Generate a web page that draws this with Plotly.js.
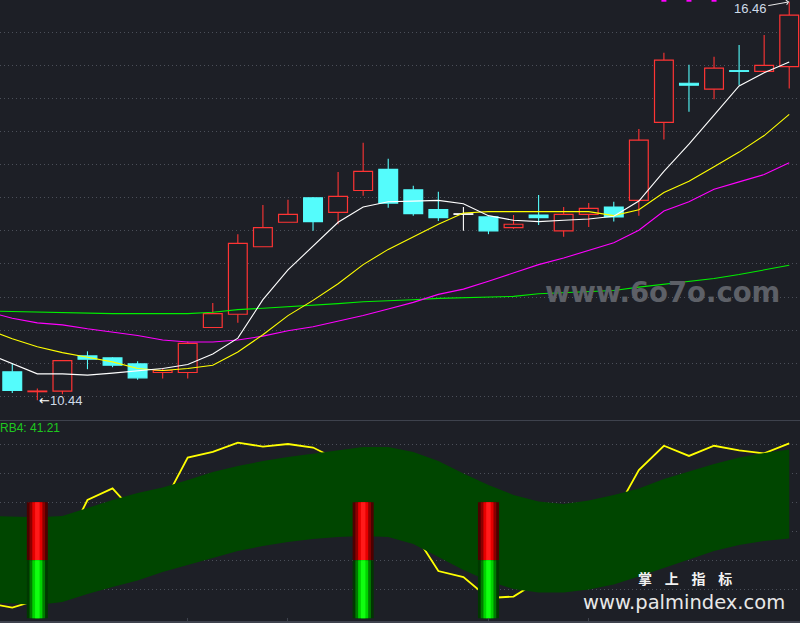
<!DOCTYPE html>
<html><head><meta charset="utf-8">
<script src="https://cdn.plot.ly/plotly-3.0.1.min.js"></script>
<style>html,body{margin:0;padding:0;background:#1d1f26;}#chart{width:800px;height:623px;}</style>
</head><body><div id="chart"></div>
<script>
// ---------- data ----------
const days   = [0,1,2,3,4,5,6,7,8,9,10,11,12,13,14,15,16,17,18,19,20,21,22,23,24,25,26,27,28,29,30,31];
const open   = [10.87,10.57,10.58,11.11,11.08,10.99,10.86,10.86,11.54,11.74,12.76,13.13,13.50,13.28,13.61,13.93,13.62,13.32,13.25,13.21,13.05,13.24,13.00,13.25,13.36,13.46,14.64,15.23,15.14,15.42,15.41,15.48];
const high   = [11.00,10.62,11.05,11.18,11.09,11.03,10.92,11.33,11.91,12.95,13.39,13.47,13.51,13.89,14.33,14.09,13.68,13.59,13.36,13.22,13.24,13.54,13.36,13.42,13.44,14.54,15.69,15.51,15.63,15.81,15.96,16.46];
const low    = [10.55,10.44,10.53,10.91,10.94,10.75,10.77,10.77,11.54,11.61,12.76,13.13,13.00,13.10,13.53,13.35,13.23,13.15,13.00,12.95,13.03,13.09,12.91,13.06,13.14,13.23,14.38,14.80,14.99,15.20,15.41,15.15];
const close  = [10.59,10.58,11.04,11.06,10.97,10.78,10.89,11.30,11.75,12.81,13.05,13.25,13.14,13.52,13.90,13.42,13.26,13.20,13.25,13.00,13.10,13.20,13.25,13.34,13.21,14.37,15.58,15.20,15.46,15.41,15.50,16.26];

// indicator lines start one day before the first visible candle
const lineDays = [-1,0,1,2,3,4,5,6,7,8,9,10,11,12,13,14,15,16,17,18,19,20,21,22,23,24,25,26,27,28,29,30,31];
const ma5  = [11.15,11.00,10.84,10.84,10.82,10.85,10.88,10.92,10.98,11.14,11.38,11.96,12.41,12.77,13.13,13.36,13.44,13.45,13.46,13.41,13.23,13.16,13.14,13.16,13.18,13.22,13.45,13.90,14.31,14.75,15.19,15.39,15.55];
const ma10 = [11.51,11.37,11.25,11.16,11.09,11.02,10.92,10.89,10.92,10.97,11.17,11.43,11.72,11.95,12.20,12.49,12.72,12.91,13.10,13.27,13.29,13.29,13.29,13.30,13.29,13.23,13.32,13.58,13.75,13.97,14.19,14.44,14.76];
const ma20 = [11.78,11.68,11.61,11.58,11.52,11.47,11.42,11.35,11.32,11.32,11.35,11.41,11.49,11.55,11.63,11.72,11.82,11.92,12.04,12.12,12.24,12.36,12.49,12.59,12.70,12.82,13.01,13.30,13.44,13.63,13.74,13.85,14.03];
const ma60 = [11.79,11.78,11.77,11.76,11.75,11.75,11.75,11.75,11.75,11.77,11.81,11.83,11.85,11.88,11.90,11.93,11.94,11.96,11.98,11.99,12.00,12.01,12.05,12.07,12.09,12.10,12.15,12.19,12.24,12.28,12.34,12.41,12.48];

const topSignalDays = [26,27,28];
const topSignalVals = [16.5,16.5,16.5];

const priceTicks = [10.5,11,11.5,12,12.5,13,13.5,14,14.5,15,15.5,16];

// lower panel
const rb4      = [-14.7,-16.3,-13.7,3.6,20.8,24.8,15.3,19.1,35.4,37.4,40.6,39.2,40.1,38.9,34.6,27.7,19.1,9.8,-3.7,-5.8,-13.0,-12.5,-7.1,0.1,7.0,15.6,31.1,39.5,36.0,39.5,37.9,36.9,40.3];
const bandUp   = [15.28,15.10,14.83,15.28,18.03,20.79,23.21,25.10,27.69,30.45,32.52,34.24,35.62,36.83,38.03,39.07,39.07,37.34,34.24,29.93,25.97,22.52,20.28,19.41,20.62,22.52,24.76,28.03,30.62,33.21,35.45,37.00,38.21];
const bandLow  = [-14.38,-14.90,-15.41,-14.38,-11.62,-9.21,-6.97,-4.03,-1.62,0.97,3.21,4.93,6.31,7.34,8.03,8.38,8.03,5.62,1.14,-3.34,-7.14,-9.90,-11.10,-11.10,-10.07,-8.34,-5.59,-2.66,0.28,3.21,5.28,6.66,7.52];
const sigDays  = [1,14,19];
const sigTop   = [20,20,20];
const sigMid   = [0,0,0];
const sigBot   = [-20,-20,-20];
const lowTicks = [-10,0,10,20,30,40];
const sepDays  = [7,11,19,23];

// ---------- styling ----------
const BG = '#1d1f26', RED = '#ff3434', CYAN = '#54fcfc', GRID = '#4b4f59';

// ---------- candle bodies ----------
const dir = days.map((d,k)=> close[k]>open[k] ? 1 : (close[k]<open[k] ? -1 : 0));
const bodyBase = days.map((d,k)=>Math.min(open[k],close[k]));
const bodyLen  = days.map((d,k)=>Math.max(Math.abs(close[k]-open[k]),0.008));
const bodyFill = dir.map(s=> s>0 ? BG : (s<0 ? CYAN : '#ffffff'));
const bodyLine = dir.map(s=> s>0 ? RED : (s<0 ? CYAN : '#ffffff'));

const traces = [];
traces.push({type:'bar', x:days, y:bodyLen, base:bodyBase, width:0.75,
  marker:{color:bodyFill, line:{color:bodyLine, width:1.2}}, xaxis:'x', yaxis:'y', hoverinfo:'skip'});

function wicks(sign, color){
  const xs=[], ys=[];
  days.forEach((d,k)=>{
    if(dir[k]!==sign) return;
    const t=Math.max(open[k],close[k]), b=Math.min(open[k],close[k]);
    if(high[k]>t){ xs.push(d,d,null); ys.push(high[k],t,null); }
    if(low[k]<b){ xs.push(d,d,null); ys.push(b,low[k],null); }
  });
  return {type:'scatter', mode:'lines', x:xs, y:ys, line:{color:color,width:1.1},
    xaxis:'x', yaxis:'y', hoverinfo:'skip', connectgaps:false};
}
traces.push(wicks(1,RED), wicks(-1,CYAN), wicks(0,'#ffffff'));

function maLine(vals,color){
  return {type:'scatter', mode:'lines', x:lineDays, y:vals, line:{color:color,width:1.1},
    xaxis:'x', yaxis:'y', hoverinfo:'skip'};
}
traces.push(maLine(ma60,'#00ee00'), maLine(ma20,'#ff00ff'), maLine(ma10,'#ffff00'), maLine(ma5,'#ffffff'));

traces.push({type:'scatter', mode:'markers', x:topSignalDays, y:topSignalVals,
  marker:{symbol:'square', size:5, color:'#ff00ff'}, xaxis:'x', yaxis:'y', hoverinfo:'skip'});

// ---------- lower panel ----------
traces.push({type:'scatter', mode:'lines', x:lineDays, y:rb4, line:{color:'#ffff00',width:1.8},
  xaxis:'x2', yaxis:'y2', hoverinfo:'skip'});
traces.push({type:'scatter', mode:'lines', x:lineDays, y:bandLow, line:{width:0,color:'#004600'},
  xaxis:'x2', yaxis:'y2', hoverinfo:'skip'});
traces.push({type:'scatter', mode:'lines', x:lineDays, y:bandUp, line:{width:0,color:'#004600'},
  fill:'tonexty', fillcolor:'#004600', xaxis:'x2', yaxis:'y2', hoverinfo:'skip'});

function stick(bottoms, tops, half, color){
  const xs=[], ys=[];
  sigDays.forEach((d,k)=>{
    xs.push(d-half,d+half,d+half,d-half,d-half,null);
    ys.push(bottoms[k],bottoms[k],tops[k],tops[k],bottoms[k],null);
  });
  return {type:'scatter', mode:'lines', x:xs, y:ys, fill:'toself', fillcolor:color,
    line:{width:0,color:color}, xaxis:'x2', yaxis:'y2', hoverinfo:'skip'};
}
const redLayers   = [[0.42,'#4e0000'],[0.31,'#8a0000'],[0.2,'#e60000'],[0.09,'#ff1a1a']];
const greenLayers = [[0.42,'#003800'],[0.31,'#007a00'],[0.2,'#00d400'],[0.09,'#10ff10']];
redLayers.forEach(l=>traces.push(stick(sigMid,sigTop,l[0],l[1])));
greenLayers.forEach(l=>traces.push(stick(sigBot,sigMid,l[0],l[1])));

// ---------- layout ----------
const XR = [-0.49,31.43];
const layout = {
  width:800, height:623, margin:{l:0,r:0,t:0,b:0},
  paper_bgcolor:BG, plot_bgcolor:BG, showlegend:false, barmode:'overlay',
  xaxis:{domain:[0,1], range:XR, anchor:'y', showgrid:false, zeroline:false, showticklabels:false, ticks:'', showline:false},
  yaxis:{domain:[0.3258,1], range:[10.142,16.488], anchor:'x', tickvals:priceTicks, showticklabels:false, ticks:'',
         showgrid:true, gridcolor:GRID, gridwidth:1, griddash:'1px,3px', zeroline:false, showline:false},
  xaxis2:{domain:[0,1], range:XR, anchor:'y2', showgrid:false, zeroline:false, showticklabels:false,
          tickvals:sepDays, ticks:'inside', ticklen:3, tickcolor:'#3e424d', tickwidth:1,
          showline:true, mirror:true, linecolor:'#3e424d', linewidth:1.5},
  yaxis2:{domain:[0.0032,0.3242], range:[-20.93,48.03], anchor:'x2', tickvals:lowTicks, showticklabels:false, ticks:'',
          showgrid:true, gridcolor:GRID, gridwidth:1, griddash:'1px,3px', zeroline:false, showline:false},
  annotations:[
    {xref:'x', yref:'y', x:31, y:high[31], text:'16.46', showarrow:true, ax:-39, ay:7,
     arrowhead:4, arrowsize:0.9, arrowwidth:1, arrowcolor:'#e8e8e8', standoff:0,
     font:{family:'Liberation Sans, Arial, sans-serif', size:13, color:'#cfdbe8'}},
    {xref:'x', yref:'y', x:1, y:low[1], xanchor:'left', yanchor:'middle', showarrow:false,
     text:'<span style="color:#ffffff;font-family:DejaVu Sans">←</span>10.44',
     font:{family:'Liberation Sans, Arial, sans-serif', size:13, color:'#cfdbe8'}},
    {xref:'paper', yref:'paper', x:-0.002, y:0.313, xanchor:'left', yanchor:'middle', showarrow:false,
     text:'RB4: 41.21', font:{family:'Liberation Sans, Arial, sans-serif', size:12, color:'#1ec81e'}},
    {xref:'paper', yref:'paper', x:0.8275, y:0.5313, xanchor:'center', yanchor:'middle', showarrow:false,
     text:'www.6o7o.com', font:{family:'DejaVu Sans, sans-serif', size:27.5, weight:700, color:'#5d6067'}},
    {xref:'paper', yref:'paper', x:0.856, y:0.0546, xanchor:'center', yanchor:'bottom', showarrow:false, borderpad:0,
     text:'掌&nbsp;&nbsp;&nbsp;&nbsp;上&nbsp;&nbsp;&nbsp;&nbsp;指&nbsp;&nbsp;&nbsp;&nbsp;标', font:{family:'Noto Sans CJK SC, sans-serif', size:14, color:'#f2f2f2', weight:700}},
    {xref:'paper', yref:'paper', x:0.8556, y:0.0530, xanchor:'center', yanchor:'top', showarrow:false, borderpad:0,
     text:'www.palmindex.com', font:{family:'DejaVu Sans, sans-serif', size:19.5, color:'#e8e8e8'}}
  ]
};

Plotly.newPlot('chart', traces, layout, {displayModeBar:false, staticPlot:true});
</script>
</body></html>
